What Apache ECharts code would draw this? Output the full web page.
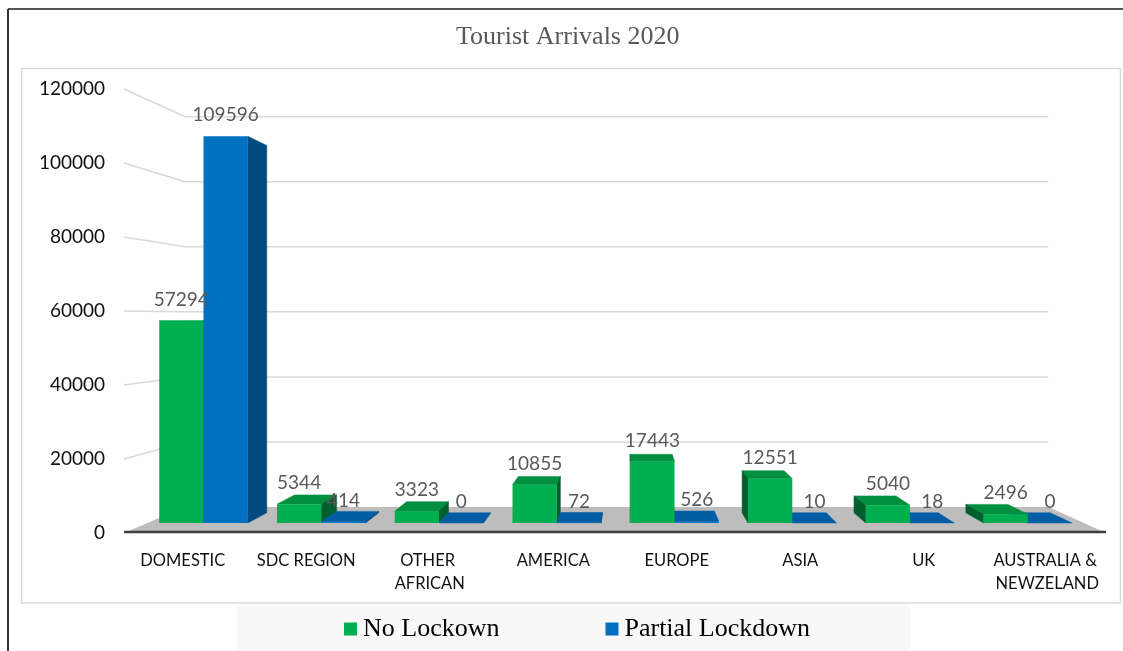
<!DOCTYPE html>
<html>
<head>
<meta charset="utf-8">
<script src="https://cdn.jsdelivr.net/npm/echarts@6/dist/echarts.min.js"></script>
<style>
  html, body { margin: 0; padding: 0; background: #ffffff; }
  #chart { width: 1123px; height: 651px; }
</style>
</head>
<body>
<div id="chart"></div>
<script>
// Tourist arrivals by origin, 2020
const categories = ['DOMESTIC', 'SDC REGION', 'OTHER AFRICAN', 'AMERICA', 'EUROPE', 'ASIA', 'UK', 'AUSTRALIA & NEWZELAND'];
const noLockdown = [57294, 5344, 3323, 10855, 17443, 12551, 5040, 2496];
const partialLockdown = [109596, 414, 0, 72, 526, 10, 18, 0];
const yTicks = [0, 20000, 40000, 60000, 80000, 100000, 120000];
const seriesNames = ['No Lockown', 'Partial Lockdown'];

// Perspective set-up: points are drawn on the front plane by the axes,
// then pulled toward a vanishing point by a depth factor.
const VP = { x: 629, y: 318 };
const DEPTH = { wall: 0.879, barFront: 0.9535, barBack: 0.906 };
const BAR_FRACTION = 0.376;   // width of one bar as a share of the category band

const PALETTE = [
  { front: '#00B050', top: '#00903F', side: '#005F2C' },
  { front: '#0070C0', top: '#005DA3', side: '#004A80' }
];

function project(p, f) {
  return [VP.x + (p[0] - VP.x) * f, VP.y + (p[1] - VP.y) * f];
}

// Floor, back-wall gridlines and the left-wall connectors, one item per tick
function renderWalls(params, api) {
  const v = api.value(0);
  const band = api.size([1, 0])[0];
  const p = api.coord([0, v]);
  const x0 = p[0] - band / 2 + 3;
  const x1 = p[0] - band / 2 + band * categories.length - 3;
  const fl = [x0, p[1]], fr = [x1, p[1]];
  const bl = project(fl, DEPTH.wall), br = project(fr, DEPTH.wall);
  const children = [];
  if (v === 0) {
    children.push({
      type: 'polygon', z2: 1,
      shape: { points: [fl, fr, br, bl] },
      style: { fill: '#BDBDBD' }
    });
    children.push({
      type: 'line', z2: 3,
      shape: { x1: fl[0], y1: fl[1] - 1, x2: fr[0], y2: fr[1] - 1 },
      style: { stroke: '#3F3F3F', lineWidth: 2.5 }
    });
  } else {
    children.push({
      type: 'line', z2: 2,
      shape: { x1: fl[0], y1: fl[1], x2: bl[0], y2: bl[1] },
      style: { stroke: '#D9D9D9', lineWidth: 1.5 }
    });
    children.push({
      type: 'line', z2: 2,
      shape: { x1: bl[0], y1: bl[1], x2: br[0], y2: br[1] },
      style: { stroke: '#D9D9D9', lineWidth: 1.5 }
    });
  }
  return { type: 'group', children: children };
}

// A 3D bar: front face, plus whichever top/side faces face the viewer
function makeBarRenderer(sIdx) {
  const col = PALETTE[sIdx];
  return function (params, api) {
    const i = api.value(0), v = api.value(1);
    const band = api.size([1, 0])[0];
    const base = api.coord([i, 0]);
    const tip = api.coord([i, v]);
    const w = band * BAR_FRACTION;
    const xl = sIdx === 0 ? base[0] - w : base[0];
    const xr = xl + w;
    const yb = base[1], yt = tip[1];
    const F = DEPTH.barFront, B = DEPTH.barBack;
    const fTL = project([xl, yt], F), fTR = project([xr, yt], F);
    const fBL = project([xl, yb], F), fBR = project([xr, yb], F);
    const bTL = project([xl, yt], B), bTR = project([xr, yt], B);
    const bBL = project([xl, yb], B), bBR = project([xr, yb], B);

    // stacking: the bar nearer the vanishing point sits on top
    const leftOfVP = base[0] < VP.x;
    const z = (leftOfVP ? (sIdx === 0 ? 4 : 6) : (sIdx === 0 ? 6 : 4));
    const children = [];
    if (yt > VP.y) {
      children.push({
        type: 'polygon', z2: z,
        shape: { points: [fTL, fTR, bTR, bTL] },
        style: { fill: col.top, stroke: col.top, lineWidth: 0.5 }
      });
    }
    if (xr < VP.x) {
      children.push({
        type: 'polygon', z2: z,
        shape: { points: [fTR, fBR, bBR, bTR] },
        style: { fill: col.side, stroke: col.side, lineWidth: 0.5 }
      });
    } else if (xl > VP.x) {
      children.push({
        type: 'polygon', z2: z,
        shape: { points: [fTL, fBL, bBL, bTL] },
        style: { fill: col.side, stroke: col.side, lineWidth: 0.5 }
      });
    }
    children.push({
      type: 'polygon', z2: z + 1,
      shape: { points: [fTL, fTR, fBR, fBL] },
      style: { fill: col.front }
    });
    children.push({
      type: 'text', z2: 20,
      style: {
        text: String(v),
        x: (fTL[0] + fTR[0]) / 2,
        y: fTL[1] - 21,
        align: 'center',
        verticalAlign: 'middle',
        fill: '#595959',
        font: '19px Lato'
      }
    });
    return { type: 'group', children: children };
  };
}

const chart = echarts.init(document.getElementById('chart'), null, { renderer: 'canvas' });

chart.setOption({
  animation: false,
  backgroundColor: '#ffffff',
  title: {
    text: 'Tourist Arrivals 2020',
    left: 456,
    top: 24,
    padding: 0,
    textStyle: { fontFamily: 'Liberation Serif', fontSize: 26, fontWeight: 'normal', color: '#595959' }
  },
  legend: {
    data: seriesNames,
    left: 344,
    top: 616,
    padding: 0,
    icon: 'rect',
    itemWidth: 13,
    itemHeight: 13,
    itemGap: 106,
    textStyle: { fontFamily: 'Liberation Serif', fontSize: 26, color: '#000000', padding: [0, 0, 0, 1] }
  },
  graphic: [
    { type: 'line', shape: { x1: 8, y1: 9, x2: 1123, y2: 9 }, style: { stroke: '#555555', lineWidth: 2 }, z: -10 },
    { type: 'line', shape: { x1: 8, y1: 9, x2: 8, y2: 651 }, style: { stroke: '#333333', lineWidth: 2 }, z: -10 },
    { type: 'rect', shape: { x: 21.5, y: 68.5, width: 1099, height: 534.5 }, style: { fill: '#ffffff', stroke: '#D9D9D9', lineWidth: 1.5 }, z: -10 },
    { type: 'rect', shape: { x: 237, y: 606, width: 673, height: 45 }, style: { fill: '#F8F8F8' }, z: -10 }
  ],
  grid: { left: 121, right: 14, top: 89, bottom: 118 },
  xAxis: {
    type: 'category',
    data: categories,
    axisLine: { show: false },
    axisTick: { show: false },
    axisLabel: {
      margin: 16,
      width: 114,
      overflow: 'break',
      lineHeight: 23,
      fontFamily: 'Lato',
      fontSize: 16.5,
      color: '#111111',
      interval: 0
    }
  },
  yAxis: {
    type: 'value',
    min: 0,
    max: 120000,
    interval: 20000,
    axisLine: { show: false },
    axisTick: { show: false },
    splitLine: { show: false },
    axisLabel: {
      margin: 16,
      fontFamily: 'Lato',
      fontSize: 19,
      color: '#111111',
      formatter: function (v) { return String(v); }
    }
  },
  series: [
    {
      type: 'custom',
      name: 'walls',
      silent: true,
      z: 1,
      renderItem: renderWalls,
      encode: { x: -1, y: 0 },
      data: yTicks.map(function (t) { return [t]; })
    },
    {
      type: 'custom',
      name: seriesNames[0],
      z: 2,
      itemStyle: { color: PALETTE[0].front },
      renderItem: makeBarRenderer(0),
      encode: { x: 0, y: 1 },
      data: noLockdown.map(function (v, i) { return [i, v]; })
    },
    {
      type: 'custom',
      name: seriesNames[1],
      z: 2,
      itemStyle: { color: PALETTE[1].front },
      renderItem: makeBarRenderer(1),
      encode: { x: 0, y: 1 },
      data: partialLockdown.map(function (v, i) { return [i, v]; })
    }
  ]
});
</script>
</body>
</html>
